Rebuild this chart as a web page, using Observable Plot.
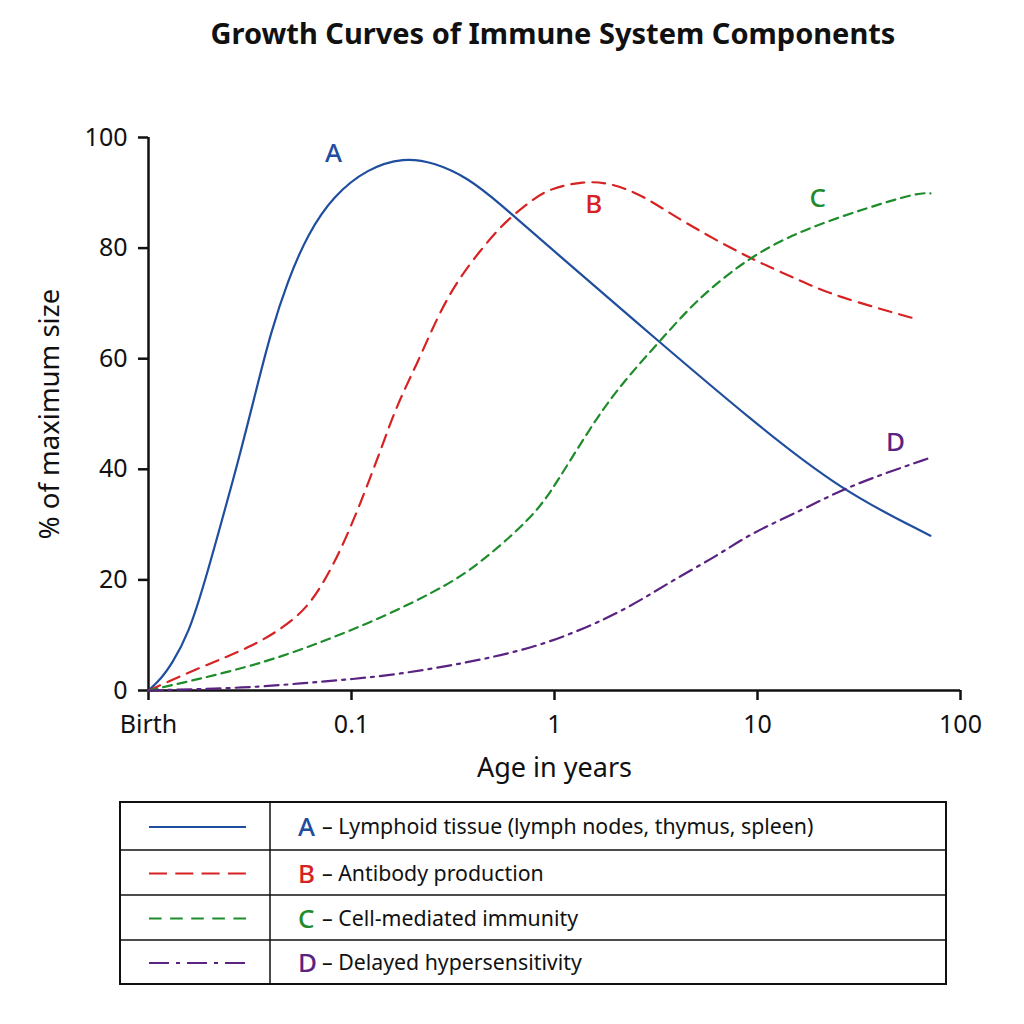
<!DOCTYPE html>
<html>
<head>
<meta charset="utf-8">
<script src="https://cdn.jsdelivr.net/npm/d3@7"></script>
<script src="https://cdn.jsdelivr.net/npm/@observablehq/plot@0.6"></script>
<style>
  body { margin: 0; background: #fff; }
  #page { position: relative; width: 1024px; height: 1024px; background: #fff; overflow: hidden; }
  #title { position: absolute; left: 0; top: 18px; width: 1106px; text-align: center;
           font: 700 29px "Noto Sans", sans-serif; line-height: 29px; color: #111; }
  #chart { position: absolute; left: 0; top: 70px; }
  #legend { position: absolute; left: 0; top: 790px; }
</style>
</head>
<body>
<div id="page">
  <div id="title">Growth Curves of Immune System Components</div>
  <div id="chart"></div>
  <div id="legend"></div>
</div>
<script>
// Age (years, log scale; "Birth" sits at 0.01) and % of maximum size for each curve
const ageA = [0.01, 0.01145, 0.01302, 0.01574, 0.01903, 0.02296, 0.02776, 0.03483, 0.0399, 0.0484, 0.0607, 0.0815, 0.120, 0.1808, 0.2542, 0.372, 0.541, 0.955, 3.22, 9.25, 25.6, 71.1];
const pctA = [0, 2, 4.8, 10.2, 19.9, 30.7, 41.6, 56, 64.5, 74, 82.5, 89.5, 94.4, 96.4, 95.5, 92.8, 88, 80, 63.3, 49, 36.2, 28];

const ageB = [0.01, 0.018, 0.0318, 0.0464, 0.0605, 0.0731, 0.0883, 0.1107, 0.139, 0.168, 0.2107, 0.2644, 0.3317, 0.432, 0.5316, 0.628, 0.788, 0.955, 1.39, 1.89, 2.74, 4.18, 8.93, 16.3, 23.7, 61.4];
const pctB = [0, 4.2, 7.8, 11.4, 15, 19.6, 25.3, 33.8, 43.4, 51.8, 59.1, 67.5, 74.1, 79.6, 83.5, 86, 88.9, 90.8, 92.1, 91.8, 89.5, 85, 78.3, 74.1, 71.4, 67.1];

const ageC = [0.01, 0.0318, 0.0678, 0.1443, 0.307, 0.432, 0.630, 0.853, 1.031, 1.343, 1.750, 2.368, 3.328, 5.046, 9.03, 16.3, 34.8, 61.4, 71.1];
const pctC = [0, 4.2, 8.4, 13.3, 19.3, 23.2, 28.3, 33.2, 37.8, 44.6, 51.2, 57.3, 63.3, 70.8, 78.3, 83.2, 87.3, 90, 89.9];

const ageD = [0.01, 0.0318, 0.0561, 0.0989, 0.174, 0.307, 0.542, 0.955, 1.82, 2.74, 4.03, 6.35, 9.25, 16.3, 25.6, 41.8, 71.1];
const pctD = [0, 0.5, 1.3, 2, 3, 4.5, 6.3, 8.7, 13, 16.6, 20.4, 24.4, 28.4, 32.5, 36.2, 39.2, 42.1];

// Curve letters placed next to each curve
const curveKeys = ["A", "B", "C", "D"];
const labelAge = [0.0815, 1.56, 19.8, 47.9];
const labelPct = [97.1, 87.9, 89.0, 44.8];

// Legend descriptions
const legendText = [
  "Lymphoid tissue (lymph nodes, thymus, spleen)",
  "Antibody production",
  "Cell-mediated immunity",
  "Delayed hypersensitivity"
];

// Axis ticks
const xTicks = [0.01, 0.1, 1, 10, 100];
const xTickLabels = ["Birth", "0.1", "1", "10", "100"];
const yTicks = [0, 20, 40, 60, 80, 100];

// Styling per curve
const colors = ["#1f4e9e", "#d62222", "#1f8c2c", "#5a2382"];
const chartDash = [null, "13,8", "9,6", "14,6,3,6"];
const legendDash = [null, "18,8.3", "12.6,8.5", "20,7,4,7"];

const FONT = '"Noto Sans", sans-serif';

const ages = [ageA, ageB, ageC, ageD];
const pcts = [pctA, pctB, pctC, pctD];
const curves = curveKeys.map((k, i) => ages[i].map((a, j) => ({key: k, age: a, pct: pcts[i][j]})));
const labels = curveKeys.map((k, i) => ({key: k, age: labelAge[i], pct: labelPct[i], color: colors[i]}));

const chart = Plot.plot({
  width: 1024,
  height: 720,
  marginLeft: 148,
  marginRight: 64,
  marginTop: 67,
  marginBottom: 100,
  style: {background: "#fff", color: "#111", fontFamily: FONT},
  x: {type: "log", domain: [0.01, 100]},
  y: {domain: [0, 100]},
  marks: [
    Plot.axisX({
      ticks: xTicks,
      tickFormat: d => xTickLabels[xTicks.indexOf(d)],
      tickSize: 10, tickPadding: 15, strokeWidth: 2.5,
      fontSize: 25, fontFamily: FONT, label: null
    }),
    Plot.axisY({
      ticks: yTicks, tickSize: 10, tickPadding: 11, strokeWidth: 2.5,
      fontSize: 25, fontFamily: FONT, label: null
    }),
    Plot.ruleY([0], {x1: 0.01, x2: 100, strokeWidth: 2.5, stroke: "#111"}),
    Plot.ruleX([0.01], {y1: 0, y2: 100, strokeWidth: 2.5, stroke: "#111"}),
    ...curves.map((data, i) => Plot.line(data, {
      x: "age", y: "pct", stroke: colors[i], strokeWidth: 2.2,
      strokeDasharray: chartDash[i], curve: "basis"
    })),
    Plot.text(labels, {
      x: "age", y: "pct", text: "key", fill: "color",
      fontSize: 26, fontWeight: 500, fontFamily: FONT, lineAnchor: "middle"
    }),
    Plot.text(["Age in years"], {
      frameAnchor: "bottom", dy: 78, fontSize: 27, fontFamily: FONT, lineAnchor: "middle"
    }),
    Plot.text(["% of maximum size"], {
      frameAnchor: "left", dx: -98, rotate: -90, textAnchor: "middle",
      fontSize: 27.5, fontFamily: FONT, lineAnchor: "middle"
    })
  ]
});
document.getElementById("chart").appendChild(chart);

// Legend table: line sample | coloured letter and description
const L = {x: 120, y: 12, w: 826, h: 182, col: 150};
const rowY = [0, 48, 93, 138, 182];
const svg = d3.select("#legend").append("svg").attr("width", 1024).attr("height", 210);
svg.append("rect").attr("x", L.x).attr("y", L.y).attr("width", L.w).attr("height", L.h)
  .attr("fill", "none").attr("stroke", "#111").attr("stroke-width", 2);
svg.append("line").attr("x1", L.x + L.col).attr("x2", L.x + L.col)
  .attr("y1", L.y).attr("y2", L.y + L.h).attr("stroke", "#111").attr("stroke-width", 1.5);
rowY.slice(1, 4).forEach(r => svg.append("line").attr("x1", L.x).attr("x2", L.x + L.w)
  .attr("y1", L.y + r).attr("y2", L.y + r).attr("stroke", "#111").attr("stroke-width", 1.5));

curveKeys.forEach((k, i) => {
  const cy = L.y + (rowY[i] + rowY[i + 1]) / 2 + 1;
  svg.append("line").attr("x1", 149).attr("x2", 246).attr("y1", cy).attr("y2", cy)
    .attr("stroke", colors[i]).attr("stroke-width", 2.2)
    .attr("stroke-dasharray", legendDash[i]);
  svg.append("text").attr("x", 298).attr("y", cy).attr("dy", "0.35em")
    .attr("fill", colors[i]).style("font", "500 26px 'Noto Sans', sans-serif").text(k);
  svg.append("text").attr("x", 322).attr("y", cy).attr("dy", "0.35em")
    .attr("fill", "#111").style("font-size", "21.3px").style("font-family", FONT)
    .text("\u2013 " + legendText[i]);
});
</script>
</body>
</html>
